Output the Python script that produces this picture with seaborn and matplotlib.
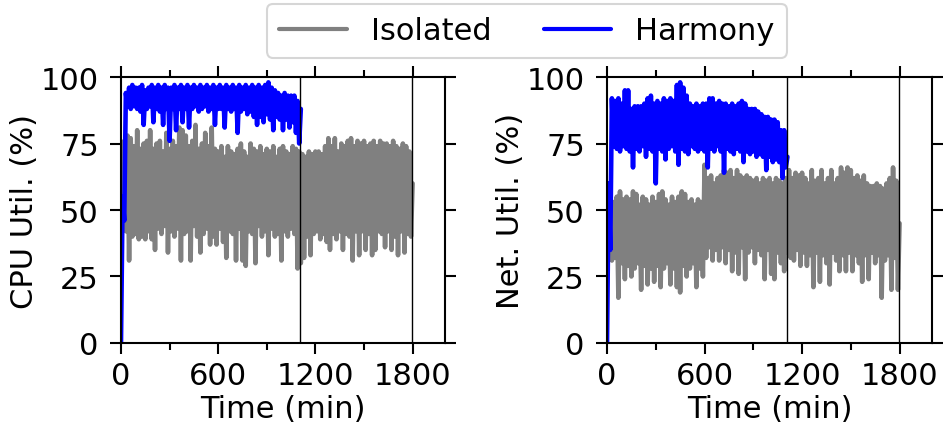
import numpy as np
import pandas as pd
import matplotlib
matplotlib.use("Agg")
import matplotlib.pyplot as plt
import seaborn as sns
from matplotlib.ticker import FixedLocator

STEP_MIN = 10  # sampling interval (minutes)

cpu_isolated = [
    44, 50,
    76, 42, 78, 31, 77, 40, 74, 41, 80, 39,
    73, 40, 75, 39, 76, 42, 80, 39, 73, 35,
    75, 43, 76, 41, 72, 44, 79, 34, 73, 42,
    76, 40, 74, 43, 81, 31, 80, 41, 78, 42,
    74, 31, 76, 44, 82, 40, 73, 34, 75, 41,
    79, 43, 74, 37, 81, 40, 73, 37, 72, 43,
    74, 38, 70, 32, 74, 42, 72, 41, 71, 31,
    73, 43, 75, 31, 72, 29, 70, 42, 75, 41,
    73, 30, 72, 44, 74, 40, 71, 42, 73, 33,
    72, 43, 74, 40, 70, 41, 73, 31, 74, 42,
    72, 40, 71, 43, 74, 41, 73, 28, 72, 30,
    71, 32, 70, 40, 72, 33, 71, 41, 72, 42,
    72, 39, 71, 41, 74, 38, 77, 35, 74, 41,
    77, 39, 72, 42, 75, 35, 74, 41, 76, 40,
    77, 31, 74, 42, 76, 33, 75, 42, 76, 35,
    74, 41, 75, 33, 76, 35, 74, 42, 76, 41,
    75, 36, 75, 42, 74, 35, 76, 40, 74, 33,
    73, 42, 75, 34, 74, 41, 72, 40,
    60,
]

cpu_harmony = [
    0, 55, 46,
    94, 89, 96, 88, 97, 89, 96, 88, 96, 87,
    97, 82, 95, 88, 96, 89, 97, 83, 96, 88,
    97, 87, 96, 82, 97, 88, 96, 76, 96, 88,
    97, 80, 96, 88, 97, 83, 96, 88, 97, 81,
    96, 88, 97, 89, 96, 87, 97, 88, 96, 89,
    97, 87, 96, 88, 97, 82, 96, 88, 97, 88,
    96, 81, 97, 88, 96, 87, 97, 88, 96, 79,
    97, 87, 96, 88, 97, 86, 96, 87, 97, 85,
    96, 82, 97, 85, 96, 83, 97, 86, 98, 84,
    96, 80, 95, 85, 94, 84, 93, 80, 94, 84,
    93, 81, 93, 83, 93, 79, 91, 75,
    88,
]

net_isolated = [
    33, 45,
    52, 31, 53, 32, 55, 17, 57, 30, 54, 24,
    55, 29, 54, 25, 57, 28, 56, 30, 52, 20,
    55, 29, 54, 22, 52, 28, 55, 23, 53, 29,
    56, 21, 57, 28, 54, 30, 52, 22, 55, 28,
    53, 21, 55, 19, 57, 29, 56, 25, 53, 28,
    54, 30, 52, 21, 54, 28, 53, 25, 67, 32,
    62, 36, 63, 31, 60, 35, 62, 31, 63, 36,
    65, 30, 64, 35, 65, 27, 62, 34, 65, 26,
    63, 36, 62, 24, 63, 34, 62, 36, 61, 30,
    62, 35, 60, 33, 62, 24, 61, 35, 62, 26,
    60, 24, 62, 34, 61, 30, 60, 27, 62, 34,
    65, 32, 62, 31, 64, 35, 63, 29, 64, 34,
    62, 29, 60, 33, 65, 21, 61, 34, 62, 23,
    65, 33, 60, 30, 62, 22, 65, 34, 60, 31,
    62, 27, 66, 33, 64, 27, 66, 34, 65, 27,
    62, 33, 63, 30, 61, 23, 63, 33, 60, 24,
    59, 34, 59, 30, 60, 33, 59, 17, 58, 31,
    60, 33, 62, 20, 66, 32, 61, 20,
    45,
]

net_harmony = [
    0, 60, 35,
    92, 74, 91, 73, 92, 72, 90, 74, 95, 73,
    95, 72, 88, 66, 89, 73, 89, 72, 89, 74,
    90, 70, 92, 73, 93, 72, 90, 60, 91, 73,
    90, 72, 92, 69, 91, 73, 92, 74, 91, 72,
    97, 67, 98, 73, 96, 72, 93, 71, 90, 74,
    89, 73, 90, 72, 89, 73, 90, 72, 90, 66,
    92, 73, 92, 72, 90, 74, 91, 72, 90, 64,
    90, 73, 89, 72, 90, 71, 89, 73, 90, 72,
    91, 68, 90, 72, 88, 71, 88, 72, 88, 70,
    87, 71, 86, 70, 85, 65, 85, 70, 84, 68,
    84, 69, 83, 68, 80, 62, 80, 66,
    70,
]

x_major = [0, 600, 1200, 1800]
x_minor = [300, 900, 1500]
y_ticks = [0, 25, 50, 75, 100]
event_lines = [1105, 1795]
series_names = ["Isolated", "Harmony"]
series_colors = {"Isolated": "#808080", "Harmony": "#0000ff"}


def to_frame(values, name):
    return pd.DataFrame({
        "time": np.arange(len(values)) * STEP_MIN,
        "util": values,
        "system": name,
    })


cpu_df = pd.concat([to_frame(cpu_isolated, "Isolated"), to_frame(cpu_harmony, "Harmony")],
                   ignore_index=True)
net_df = pd.concat([to_frame(net_isolated, "Isolated"), to_frame(net_harmony, "Harmony")],
                   ignore_index=True)

sns.set_style("ticks")
plt.rcParams["font.family"] = ["DejaVu Sans"]
plt.rcParams.update({
    "text.color": "black", "axes.labelcolor": "black",
    "xtick.color": "black", "ytick.color": "black",
    "xtick.labelcolor": "black", "ytick.labelcolor": "black",
})
FS = 22

fig = plt.figure(figsize=(9.43, 4.27), dpi=100)
ax1 = fig.add_axes([0.1283, 0.1944, 0.3436, 0.6229])
ax2 = fig.add_axes([0.6437, 0.1944, 0.3447, 0.6229])

for ax, df, ylabel in [(ax1, cpu_df, "CPU Util. (%)"), (ax2, net_df, "Net. Util. (%)")]:
    sns.lineplot(data=df, x="time", y="util", hue="system", hue_order=series_names,
                 palette=series_colors, linewidth=3.3, ax=ax, legend=(ax is ax1),
                 estimator=None, sort=False)
    for xv in event_lines:
        ax.axvline(xv, color="black", linewidth=1, zorder=3)
    ax.set_xlim(0, 2000)
    ax.set_ylim(0, 100)
    ax.xaxis.set_major_locator(FixedLocator(x_major))
    ax.xaxis.set_minor_locator(FixedLocator(x_minor))
    ax.yaxis.set_major_locator(FixedLocator(y_ticks))
    ax.set_xticklabels([str(v) for v in x_major])
    ax.set_yticklabels([str(v) for v in y_ticks])
    ax.tick_params(axis="both", which="major", direction="out", length=8, width=1.5,
                   labelsize=FS, top=True, right=True, color="black", labelcolor="black")
    ax.tick_params(axis="y", which="major", pad=8)
    ax.tick_params(axis="x", which="major", pad=5)
    ax.tick_params(axis="x", which="minor", direction="out", length=5, width=1.5,
                   top=True, color="black")
    for sp in ax.spines.values():
        sp.set_linewidth(1.5)
        sp.set_color("black")
    ax.set_xlabel("Time (min)", fontsize=FS, labelpad=3, color="black")
    ax.set_ylabel(ylabel, fontsize=FS, labelpad=1, color="black")

handles, labels = ax1.get_legend_handles_labels()
ax1.get_legend().remove()
leg = fig.legend(handles, labels, loc="upper center", bbox_to_anchor=(0.559, 0.988),
                 borderaxespad=0, ncol=2, fontsize=FS, frameon=True, columnspacing=1.7,
                 handlelength=2.2, fancybox=True)
for line in leg.get_lines():
    line.set_linewidth(3)
for txt in leg.get_texts():
    txt.set_color("black")
leg.get_frame().set_edgecolor("#cccccc")
leg.get_frame().set_linewidth(1.5)

fig.savefig("out.png", dpi=100)
